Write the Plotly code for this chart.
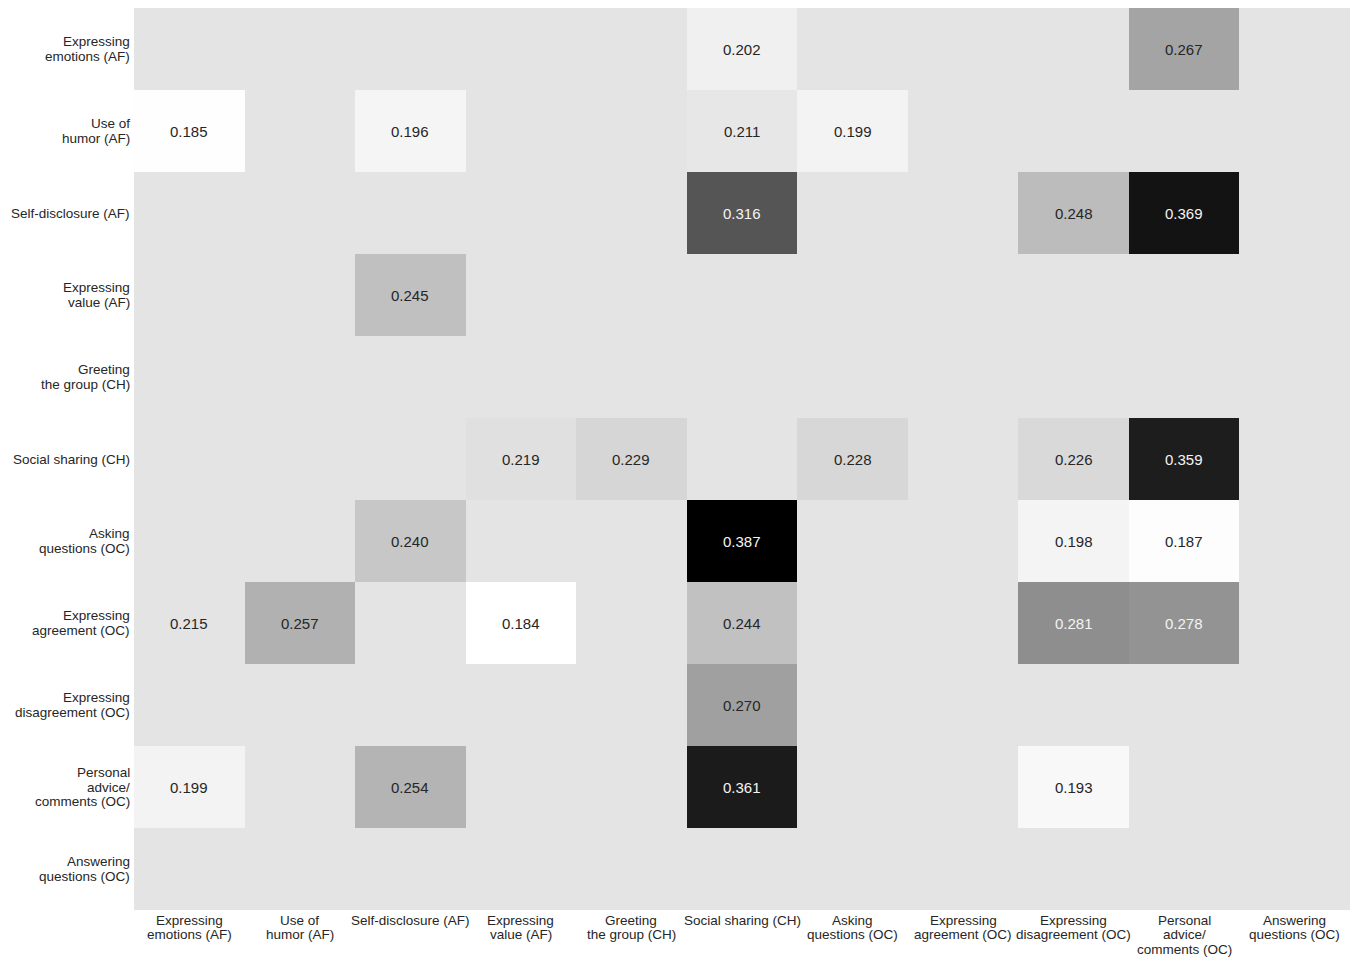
import plotly.graph_objects as go

# Category labels (same categories on both axes); "<br>" marks a line break
x_labels = [
    "Expressing<br>emotions (AF)",
    "Use of<br>humor (AF)",
    "Self-disclosure (AF)",
    "Expressing<br>value (AF)",
    "Greeting<br>the group (CH)",
    "Social sharing (CH)",
    "Asking<br>questions (OC)",
    "Expressing<br>agreement (OC)",
    "Expressing<br>disagreement (OC)",
    "Personal<br>advice/<br>comments (OC)",
    "Answering<br>questions (OC)",
]
y_labels = [
    "Expressing<br>emotions (AF)",
    "Use of<br>humor (AF)",
    "Self-disclosure (AF)",
    "Expressing<br>value (AF)",
    "Greeting<br>the group (CH)",
    "Social sharing (CH)",
    "Asking<br>questions (OC)",
    "Expressing<br>agreement (OC)",
    "Expressing<br>disagreement (OC)",
    "Personal<br>advice/<br>comments (OC)",
    "Answering<br>questions (OC)",
]

N = None
# Row = y category (top to bottom), column = x category (left to right)
row_emotions     = [N, N, N, N, N, 0.202, N, N, N, 0.267, N]
row_humor        = [0.185, N, 0.196, N, N, 0.211, 0.199, N, N, N, N]
row_selfdisc     = [N, N, N, N, N, 0.316, N, N, 0.248, 0.369, N]
row_value        = [N, N, 0.245, N, N, N, N, N, N, N, N]
row_greeting     = [N, N, N, N, N, N, N, N, N, N, N]
row_sharing      = [N, N, N, 0.219, 0.229, N, 0.228, N, 0.226, 0.359, N]
row_asking       = [N, N, 0.240, N, N, 0.387, N, N, 0.198, 0.187, N]
row_agreement    = [0.215, 0.257, N, 0.184, N, 0.244, N, N, 0.281, 0.278, N]
row_disagreement = [N, N, N, N, N, 0.270, N, N, N, N, N]
row_advice       = [0.199, N, 0.254, N, N, 0.361, N, N, 0.193, N, N]
row_answering    = [N, N, N, N, N, N, N, N, N, N, N]

z = [row_emotions, row_humor, row_selfdisc, row_value, row_greeting,
     row_sharing, row_asking, row_agreement, row_disagreement,
     row_advice, row_answering]

zmin, zmax = 0.184, 0.387
x_idx = list(range(len(x_labels)))
y_idx = list(range(len(y_labels)))

FONT = "Liberation Sans, Arial, Helvetica, sans-serif"
LABEL_SIZE = 13.5
LINE_STEP = 14.5  # px between stacked label lines
TEXT_DARK = "#262626"

# White-to-black ramp, lighter near the low end
grey_scale = [
    [0.000, "#ffffff"],
    [0.074, "#f3f3f3"],
    [0.222, "#d6d6d6"],
    [0.300, "#c0c0c0"],
    [0.424, "#a0a0a0"],
    [0.650, "#555555"],
    [0.867, "#1c1c1c"],
    [1.000, "#000000"],
]

fig = go.Figure(go.Heatmap(
    z=z, x=x_idx, y=y_idx,
    colorscale=grey_scale,
    zmin=zmin, zmax=zmax,
    showscale=False, xgap=0, ygap=0,
    hoverongaps=False,
))

annotations = []

# Cell values
for i, row in enumerate(z):
    for j, v in enumerate(row):
        if v is None:
            continue
        color = "#f4f4f4" if v > 0.275 else TEXT_DARK
        annotations.append(dict(
            x=j, y=i, xref="x", yref="y", text=f"{v:.3f}", showarrow=False,
            font=dict(family=FONT, size=15, color=color),
        ))

# Column labels under the grid, one annotation per line for tight spacing
for j, lab in enumerate(x_labels):
    for k, line in enumerate(lab.split("<br>")):
        annotations.append(dict(
            x=j, y=0, xref="x", yref="paper", text=line, showarrow=False,
            xanchor="center", yanchor="middle", yshift=-(10 + LINE_STEP * k),
            font=dict(family=FONT, size=LABEL_SIZE, color=TEXT_DARK),
        ))

# Row labels left of the grid, right-aligned and centred on each row
for i, lab in enumerate(y_labels):
    lines = lab.split("<br>")
    n = len(lines)
    for k, line in enumerate(lines):
        offset = ((n - 1) / 2 - k) * LINE_STEP
        annotations.append(dict(
            x=0, y=i, xref="paper", yref="y", text=line, showarrow=False,
            xanchor="right", yanchor="middle", xshift=-2, yshift=offset,
            font=dict(family=FONT, size=LABEL_SIZE, color=TEXT_DARK),
        ))

fig.update_layout(
    width=1356, height=957,
    margin=dict(l=134, r=6, t=8, b=47),
    paper_bgcolor="#ffffff",
    plot_bgcolor="#e4e4e4",
    font=dict(family=FONT, size=13, color=TEXT_DARK),
    annotations=annotations,
    xaxis=dict(
        tickmode="array", tickvals=x_idx, ticktext=x_labels,
        showticklabels=False,
        showgrid=False, zeroline=False, showline=False, ticks="",
        range=[-0.5, len(x_labels) - 0.5], automargin=False,
    ),
    yaxis=dict(
        tickmode="array", tickvals=y_idx, ticktext=y_labels,
        showticklabels=False,
        showgrid=False, zeroline=False, showline=False, ticks="",
        range=[len(y_labels) - 0.5, -0.5], automargin=False,
    ),
)

fig.write_html("out.html")
